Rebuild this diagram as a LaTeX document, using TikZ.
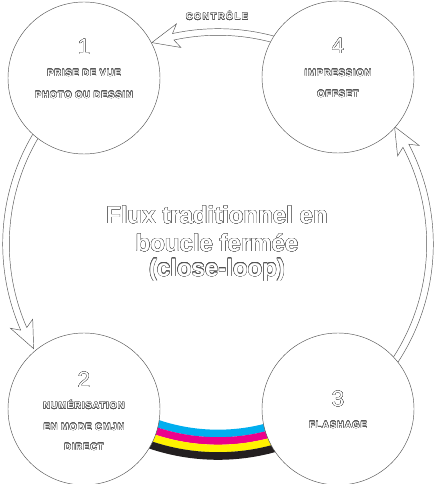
\documentclass[tikz,border=0pt]{standalone}
\usepackage{fontspec}
\setmainfont{Liberation Sans}
\newfontfamily\labfont[LetterSpace=10]{Liberation Sans}
\newfontfamily\ctlfont[LetterSpace=16]{Liberation Sans}
\usepackage{contour}
\contourlength{0.3pt}
\definecolor{lc}{HTML}{555555}
\definecolor{cmC}{HTML}{00AEEF}
\definecolor{cmM}{HTML}{EC008C}
\definecolor{cmY}{HTML}{FFF200}
\definecolor{cmK}{HTML}{231F20}
\newcommand\ot[1]{\contour{lc}{#1}}
\newcommand\harrow[2]{%
  \pgfmathsetmacro\hb{#2-7.5}\pgfmathsetmacro\hn{#2-6}%
  \draw[ln] (#1:215.3pt) arc[start angle=#1, end angle=\hn, radius=215.3pt]
     -- (\hb:224pt) -- (#2:212pt) -- (\hb:200pt) -- (\hn:208.7pt)
     arc[start angle=\hn, end angle=#1, radius=208.7pt];}
\begin{document}
\begin{tikzpicture}[x=1pt,y=1pt,
  ln/.style={draw=lc, line width=0.45pt},
  stage/.style={circle, ln, fill=white, minimum size=152pt, inner sep=0pt},
  lab/.style={text=white, font=\labfont\bfseries\fontsize{9.3}{11}\selectfont, inner sep=0pt},
  num/.style={text=white, font=\fontsize{22}{24}\selectfont, inner sep=0pt},
  big/.style={text=white, font=\bfseries\fontsize{24}{27}\selectfont, inner sep=0pt}]
\useasboundingbox (0,0) rectangle (436,484);
\fill[white] (0,0) rectangle (436,484);
% CMYK band
\begin{scope}[shift={(218,240)}]
  \draw[cmC, line width=7.6pt] (236:189.5pt) arc[start angle=236, end angle=304, radius=189.5pt];
  \draw[cmM, line width=7.6pt] (236:197pt) arc[start angle=236, end angle=304, radius=197pt];
  \draw[cmY, line width=7.6pt] (236:204.5pt) arc[start angle=236, end angle=304, radius=204.5pt];
  \draw[cmK, line width=7.6pt] (236:212pt) arc[start angle=236, end angle=304, radius=212pt];
  \harrow{72}{108.2}
  \harrow{147}{209.6}
  \harrow{323}{393.6}
\end{scope}
% stages
\node[stage] (s1) at (84,406) {};
\node[stage] (s4) at (338,407) {};
\node[stage] (s2) at (84,75) {};
\node[stage] (s3) at (338,75) {};
% texts
\node[num] (n1) at (84,437) {\ot{1}};
\node[lab] (t1a) at (84,411) {\ot{PRISE DE VUE}};
\node[lab] (t1b) at (84,389) {\ot{PHOTO OU DESSIN}};
\node[num] (n4) at (338,438) {\ot{4}};
\node[lab] (t4a) at (338,411) {\ot{IMPRESSION}};
\node[lab] (t4b) at (338,390) {\ot{OFFSET}};
\node[num] (n2) at (84,104) {\ot{2}};
\node[lab] (t2a) at (84,79) {\ot{NUMÉRISATION}};
\node[lab] (t2b) at (84,57) {\ot{EN MODE CMJN}};
\node[lab] (t2c) at (84,37) {\ot{DIRECT}};
\node[num] (n3) at (338,85) {\ot{3}};
\node[lab] (t3a) at (338,59) {\ot{FLASHAGE}};
\node[lab, font=\ctlfont\bfseries\fontsize{9.2}{10}\selectfont] (ctl) at (217,468) {\ot{CONTRÔLE}};
\node[big] (m1) at (217,269) {\ot{Flux traditionnel en}};
\node[big] (m2) at (217,241) {\ot{boucle fermée}};
\node[big] (m3) at (217,214) {\ot{(close-loop)}};
\end{tikzpicture}
\end{document}
